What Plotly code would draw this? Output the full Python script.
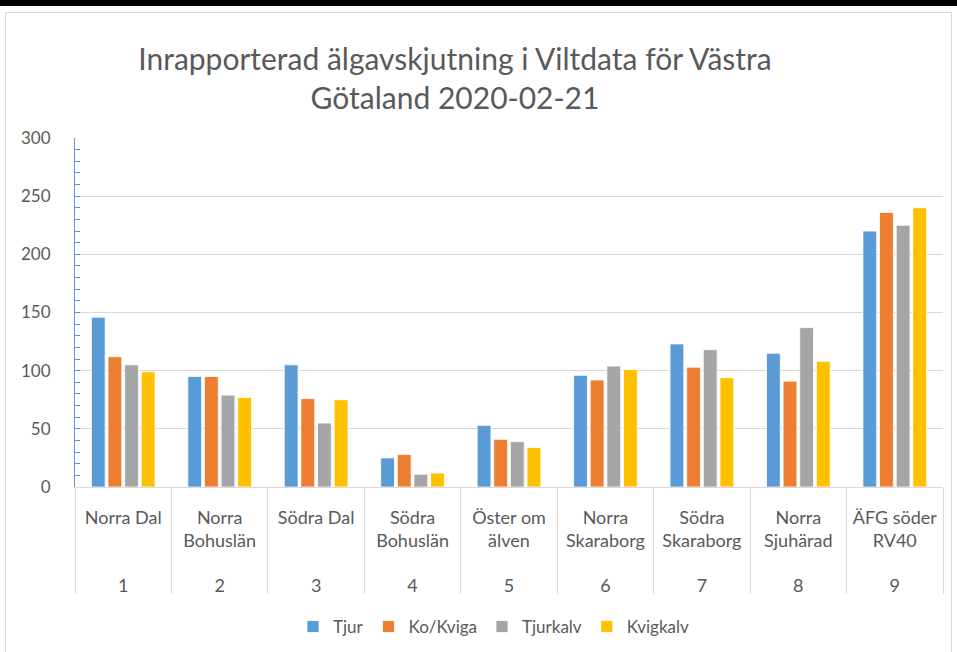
import plotly.graph_objects as go

categories = ["Norra Dal", "Norra<br>Bohuslän", "Södra Dal", "Södra<br>Bohuslän", "Öster om<br>älven",
              "Norra<br>Skaraborg", "Södra<br>Skaraborg", "Norra<br>Sjuhärad", "ÄFG söder<br>RV40"]
numbers = ["1", "2", "3", "4", "5", "6", "7", "8", "9"]

tjur = [146, 95, 105, 25, 53, 96, 123, 115, 220]
ko_kviga = [112, 95, 76, 28, 41, 92, 103, 91, 236]
tjurkalv = [105, 79, 55, 11, 39, 104, 118, 137, 225]
kvigkalv = [99, 77, 75, 12, 34, 101, 94, 108, 240]

series = [("Tjur", tjur, "#5B9BD5"), ("Ko/Kviga", ko_kviga, "#ED7D31"),
          ("Tjurkalv", tjurkalv, "#A5A5A5"), ("Kvigkalv", kvigkalv, "#FFC000")]

W, H = 957, 652
L, R, T, B = 75, 943, 138, 487
pw, ph = R - L, B - T

FONT = "Lato"
TXT = "#595959"
GRID = "#D9D9D9"

fig = go.Figure()
for name, vals, col in series:
    fig.add_trace(go.Bar(x=categories, y=vals, name=name, marker_color=col,
                         marker_line=dict(color="white", width=0.8)))

# invisible helper trace for number axis
fig.add_trace(go.Scatter(x=list(range(len(numbers))), y=[0] * len(numbers), xaxis="x2",
                         mode="markers", marker=dict(opacity=0), showlegend=False, hoverinfo="skip"))

def px_x(p):
    return (p - L) / pw

def px_y(p):
    return (B - p) / ph

fig.update_layout(
    width=W, height=H,
    margin=dict(l=L, r=W - R, t=T, b=H - B, autoexpand=False),
    paper_bgcolor="white", plot_bgcolor="white",
    font=dict(family=FONT, color=TXT),
    title=dict(text="Inrapporterad älgavskjutning i Viltdata för Västra<br>Götaland 2020-02-21",
               x=455 / W, xanchor="center", xref="container",
               y=1 - 70 / H, yanchor="middle", yref="container",
               font=dict(size=30, color=TXT, family=FONT)),
    barmode="group", bargap=0.31, bargroupgap=0.17,
    xaxis=dict(type="category", tickson="boundaries", ticks="outside", ticklen=106,
               tickcolor=GRID, tickwidth=1, showline=True, linecolor=GRID, linewidth=1,
               showgrid=False, tickfont=dict(size=18, color=TXT, family=FONT),
               ticklabelstandoff=14, range=[-0.5, 8.5]),
    xaxis2=dict(overlaying="x", side="bottom", range=[-0.5, 8.5], tickvals=list(range(9)),
                ticktext=numbers, showgrid=False, showline=False, zeroline=False, ticks="",
                ticklabelstandoff=86, tickfont=dict(size=18, color=TXT, family=FONT)),
    yaxis=dict(range=[0, 300], dtick=50, showgrid=True, gridcolor=GRID, gridwidth=1,
               zeroline=False, showline=True, linecolor="#5B9BD5", linewidth=1,
               ticks="inside", ticklen=5, tickcolor="#5B9BD5",
               minor=dict(dtick=10, ticks="inside", ticklen=5, tickcolor="#5B9BD5", showgrid=False),
               tickfont=dict(size=17, color=TXT, family=FONT), ticklabelstandoff=20),
    legend=dict(orientation="h", x=px_x(494), xanchor="center",
                y=px_y(627), yanchor="middle", font=dict(size=17, color=TXT, family=FONT),
                itemwidth=30, tracegroupgap=0),
    showlegend=True,
    shapes=[
        dict(type="rect", xref="paper", yref="paper", x0=px_x(-5), x1=px_x(W + 5),
             y0=px_y(6), y1=px_y(-5), fillcolor="black", line=dict(width=0), layer="above"),
        dict(type="rect", xref="paper", yref="paper", x0=px_x(5.5), x1=px_x(951.5),
             y0=px_y(670), y1=px_y(12.5), fillcolor="rgba(0,0,0,0)",
             line=dict(color=GRID, width=1), layer="below"),
    ],
)

fig.write_html("out.html", config={"displayModeBar": False},
               post_script="document.body.style.margin='0';document.body.style.overflow='hidden';")
